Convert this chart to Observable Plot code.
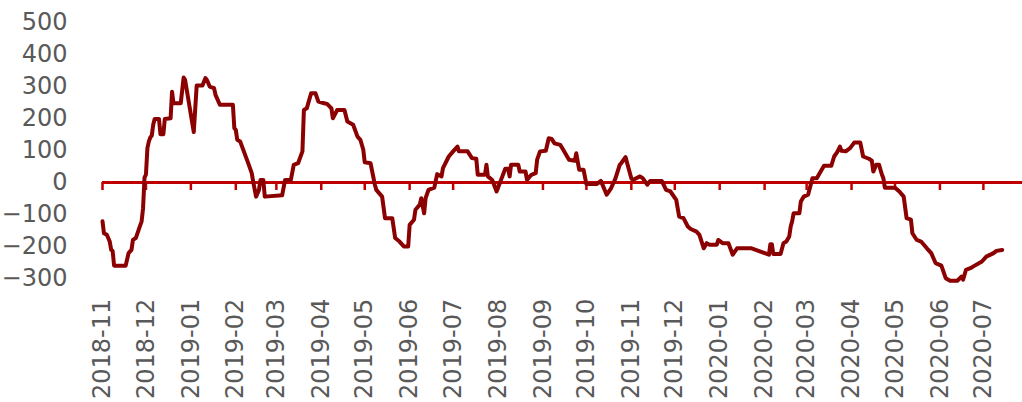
<!DOCTYPE html>
<html><head><meta charset="utf-8">
<script src="https://cdn.jsdelivr.net/npm/d3@7"></script>
<script src="https://cdn.jsdelivr.net/npm/@observablehq/plot@0.6"></script>
<style>html,body{margin:0;padding:0;background:#fff}svg{display:block}</style>
</head><body><div id="chart"></div>
<script>
const dates = [
"2018-11-01","2018-11-02","2018-11-04","2018-11-06","2018-11-07","2018-11-08","2018-11-09","2018-11-17","2018-11-19","2018-11-21",
"2018-11-22","2018-11-24","2018-11-26","2018-11-28","2018-11-29","2018-11-30","2018-12-01","2018-12-02","2018-12-03","2018-12-04",
"2018-12-05","2018-12-06","2018-12-07","2018-12-10","2018-12-11","2018-12-13","2018-12-14","2018-12-18","2018-12-19","2018-12-20",
"2018-12-25","2018-12-27","2018-12-28","2019-01-03","2019-01-05","2019-01-09","2019-01-11","2019-01-12","2019-01-14","2019-01-17",
"2019-01-18","2019-01-21","2019-01-30","2019-01-31","2019-02-01","2019-02-02","2019-02-04","2019-02-10","2019-02-12","2019-02-13",
"2019-02-15","2019-02-17","2019-02-18","2019-02-20","2019-02-21","2019-03-05","2019-03-07","2019-03-11","2019-03-13","2019-03-16",
"2019-03-19","2019-03-20","2019-03-22","2019-03-25","2019-03-28","2019-03-30","2019-04-03","2019-04-05","2019-04-08","2019-04-09",
"2019-04-12","2019-04-17","2019-04-19","2019-04-23","2019-04-26","2019-04-28","2019-04-30","2019-05-01","2019-05-05","2019-05-08",
"2019-05-09","2019-05-13","2019-05-15","2019-05-20","2019-05-22","2019-05-25","2019-05-28","2019-05-31","2019-06-01","2019-06-04",
"2019-06-05","2019-06-08","2019-06-09","2019-06-11","2019-06-12","2019-06-14","2019-06-18","2019-06-20","2019-06-23","2019-06-24",
"2019-06-28","2019-07-01","2019-07-04","2019-07-05","2019-07-11","2019-07-14","2019-07-17","2019-07-18","2019-07-23","2019-07-24",
"2019-07-25","2019-07-28","2019-07-31","2019-08-04","2019-08-06","2019-08-08","2019-08-09","2019-08-10","2019-08-15","2019-08-16",
"2019-08-20","2019-08-21","2019-08-24","2019-08-27","2019-08-28","2019-08-30","2019-09-03","2019-09-05","2019-09-07","2019-09-09",
"2019-09-13","2019-09-15","2019-09-19","2019-09-23","2019-09-24","2019-09-26","2019-09-29","2019-10-01","2019-10-08","2019-10-11",
"2019-10-15","2019-10-18","2019-10-21","2019-10-24","2019-10-25","2019-10-28","2019-11-01","2019-11-02","2019-11-07","2019-11-09",
"2019-11-12","2019-11-14","2019-11-22","2019-11-25","2019-11-28","2019-12-02","2019-12-04","2019-12-07","2019-12-10","2019-12-12",
"2019-12-16","2019-12-18","2019-12-21","2019-12-23","2019-12-25","2019-12-30","2019-12-31","2020-01-03","2020-01-07","2020-01-10",
"2020-01-13","2020-01-23","2020-02-04","2020-02-05","2020-02-06","2020-02-07","2020-02-12","2020-02-14","2020-02-16","2020-02-18",
"2020-02-19","2020-02-20","2020-02-21","2020-02-25","2020-02-26","2020-02-28","2020-03-02","2020-03-05","2020-03-08","2020-03-10",
"2020-03-13","2020-03-18","2020-03-20","2020-03-22","2020-03-24","2020-03-25","2020-03-28","2020-03-31","2020-04-03","2020-04-07",
"2020-04-09","2020-04-13","2020-04-15","2020-04-16","2020-04-18","2020-04-20","2020-04-22","2020-04-23","2020-04-24","2020-05-01",
"2020-05-04","2020-05-07","2020-05-09","2020-05-12","2020-05-13","2020-05-16","2020-05-19","2020-05-23","2020-05-26","2020-05-29",
"2020-06-02","2020-06-05","2020-06-08","2020-06-13","2020-06-16","2020-06-17","2020-06-19","2020-06-22","2020-06-25","2020-06-30",
"2020-07-03","2020-07-08","2020-07-10","2020-07-14"
];
const values = [
-121,-158,-163,-184,-210,-213,-259,-259,-220,-210,
-179,-173,-147,-121,-80,15,25,107,128,140,
146,180,198,198,150,150,198,200,283,247,
247,327,320,157,302,302,325,320,299,294,
273,242,242,169,164,133,128,55,29,3,
-44,-23,8,8,-44,-40,8,8,55,60,
97,226,231,278,278,252,247,245,231,200,
226,226,190,180,143,133,102,63,60,-7,
-23,-44,-111,-111,-173,-184,-199,-199,-132,-116,
-85,-69,-49,-96,-49,-23,-16,26,19,45,
81,97,112,97,97,76,74,24,24,55,
19,8,-28,19,43,43,19,55,55,34,
34,8,24,29,71,97,99,138,136,122,
117,102,71,68,91,40,40,-5,-5,5,
-38,-18,12,55,60,79,13,8,19,13,
-7,5,5,-23,-28,-54,-106,-111,-137,-145,
-153,-163,-205,-189,-194,-194,-179,-189,-189,-225,
-205,-205,-225,-192,-192,-223,-223,-189,-184,-168,
-137,-121,-96,-96,-59,-44,-38,13,13,29,
52,52,81,94,112,99,97,107,125,125,
81,74,68,34,55,55,24,13,-16,-16,
-28,-44,-111,-116,-158,-179,-184,-205,-220,-251,
-259,-298,-306,-306,-293,-303,-272,-267,-259,-246,
-231,-220,-213,-210
];
const monthTicks = ["2018-11-01","2018-12-01","2019-01-01","2019-02-01","2019-03-01","2019-04-01","2019-05-01",
"2019-06-01","2019-07-01","2019-08-01","2019-09-01","2019-10-01","2019-11-01","2019-12-01","2020-01-01",
"2020-02-01","2020-03-01","2020-04-01","2020-05-01","2020-06-01","2020-07-01"];
const yTicks = [-300,-200,-100,0,100,200,300,400,500];
const xDomain = ["2018-11-01","2020-07-28"];
const yDomain = [-300,500];

const data = dates.map((d,i)=>({date:new Date(d+"T00:00:00Z"), value:values[i]}));
const ticks = monthTicks.map(d=>new Date(d+"T00:00:00Z"));

const chart = Plot.plot({
  width:1022, height:402,
  marginLeft:102, marginRight:0, marginTop:21.5, marginBottom:123.7,
  style:{fontFamily:"DejaVu Sans", color:"#595959", background:"#fff"},
  x:{type:"utc", domain:xDomain.map(d=>new Date(d+"T00:00:00Z"))},
  y:{domain:yDomain},
  marks:[
    Plot.ruleY([0],{stroke:"#C00000", strokeWidth:3}),
    Plot.ruleX(ticks,{x:d=>d, y1:0, y2:-25, stroke:"#C00000", strokeWidth:2.5}),
    Plot.lineY(data,{x:"date", y:"value", stroke:"#8B0000", strokeWidth:4, strokeLinejoin:"round", strokeLinecap:"round"}),
    Plot.axisY(yTicks,{tickSize:0, tickPadding:35, fontSize:24, label:null}),
    Plot.axisX(ticks,{tickSize:0, tickPadding:20, tickRotate:-90, fontSize:24, label:null, tickFormat:d3.utcFormat("%Y-%m")})
  ]
});
document.getElementById("chart").appendChild(chart);
</script>
</body></html>
